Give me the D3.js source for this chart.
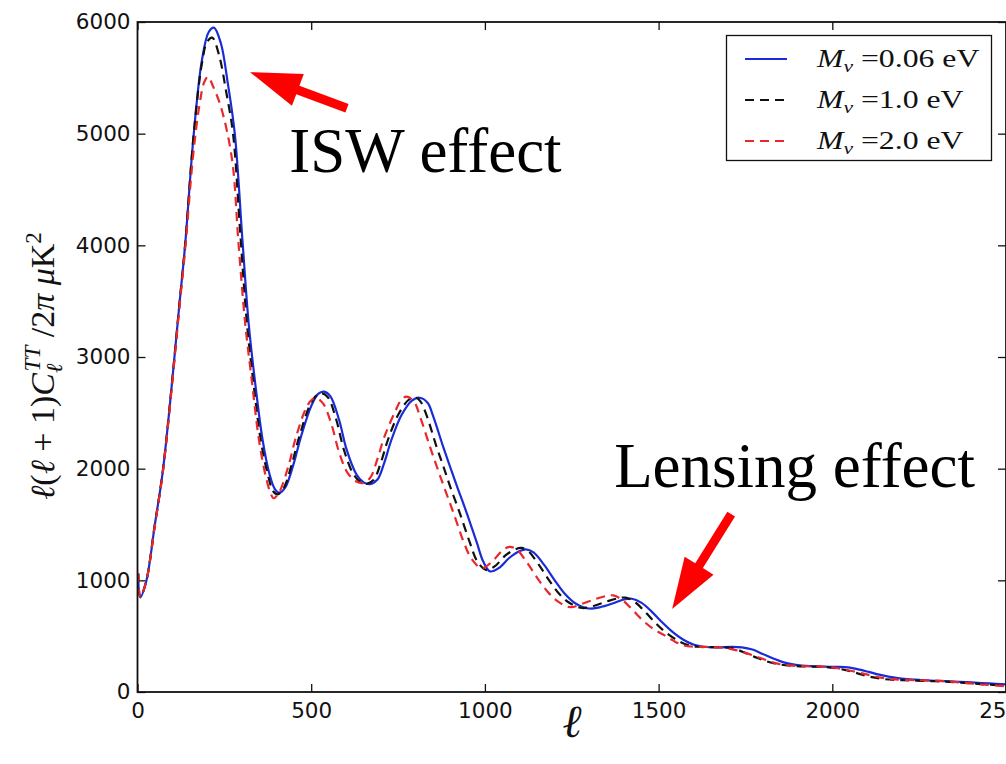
<!DOCTYPE html>
<html>
<head>
<meta charset="utf-8">
<script src="https://cdn.jsdelivr.net/npm/d3@7"></script>
<style>
  body { margin: 0; background: #fff; }
  svg { display: block; }
</style>
</head>
<body>
<svg id="chart" width="1006" height="764"></svg>
<script>
// Tick values of both axes
const xTicks = [0, 500, 1000, 1500, 2000, 2500];
const yTicks = [0, 1000, 2000, 3000, 4000, 5000, 6000];

// Legend entries (neutrino mass sum)
const massLabels = ["0.06 eV", "1.0 eV", "2.0 eV"];

// l(l+1)C_l^TT / 2pi in muK^2, as [multipole l, value]
const spectrum006 = [
  [2, 1060], [8, 850], [25, 990], [50, 1500], [73, 1980], [100, 2790], [120, 3450],
  [137, 4000], [162, 5000], [185, 5650], [205, 5910], [220, 5950], [240, 5810],
  [260, 5450], [280, 5000], [302, 4050], [320, 3300], [339, 2760], [360, 2260],
  [380, 1950], [395, 1820], [408, 1785], [425, 1830], [450, 2050], [470, 2280],
  [500, 2560], [520, 2670], [537, 2690], [555, 2650], [580, 2440], [602, 2170],
  [630, 1950], [650, 1880], [669, 1862], [690, 1900], [710, 2050], [730, 2250],
  [760, 2480], [790, 2610], [812, 2635], [835, 2590], [851, 2470], [880, 2195],
  [900, 2015], [920, 1840], [948, 1600], [977, 1335], [995, 1170], [1015, 1080],
  [1040, 1110], [1070, 1200], [1100, 1262], [1118, 1278], [1140, 1250], [1170, 1140],
  [1200, 1005], [1230, 880], [1260, 795], [1298, 748], [1330, 758], [1370, 795],
  [1400, 828], [1423, 835], [1450, 800], [1480, 720], [1510, 625], [1540, 538],
  [1570, 470], [1600, 425], [1630, 405], [1670, 400], [1710, 404], [1740, 400],
  [1770, 380], [1800, 340], [1830, 300], [1860, 265], [1895, 243], [1935, 231],
  [1975, 227], [2015, 225], [2045, 220], [2075, 203], [2105, 180], [2135, 155],
  [2165, 135], [2200, 121], [2250, 108], [2300, 100], [2350, 94], [2400, 86],
  [2450, 77], [2500, 68]
];

const spectrum10 = [
  [2, 1060], [8, 850], [25, 990], [50, 1500], [73, 1980], [100, 2790], [120, 3450],
  [137, 4000], [162, 5000], [185, 5620], [200, 5820], [215, 5860], [235, 5700],
  [255, 5380], [275, 5000], [296, 4100], [315, 3300], [334, 2760], [355, 2250],
  [375, 1950], [390, 1800], [403, 1770], [420, 1820], [445, 2050], [465, 2280],
  [495, 2560], [513, 2650], [530, 2675], [548, 2640], [572, 2440], [594, 2170],
  [620, 1960], [642, 1880], [660, 1865], [680, 1900], [700, 2050], [720, 2250],
  [750, 2480], [780, 2615], [800, 2640], [815, 2600], [833, 2470], [861, 2195],
  [881, 2015], [900, 1840], [928, 1600], [957, 1335], [978, 1170], [1005, 1092],
  [1030, 1130], [1060, 1225], [1088, 1278], [1105, 1290], [1125, 1262], [1155, 1140],
  [1185, 1000], [1215, 875], [1245, 795], [1280, 752], [1315, 772], [1355, 815],
  [1385, 840], [1405, 845], [1432, 805], [1462, 715], [1492, 615], [1520, 535],
  [1550, 470], [1580, 425], [1612, 405], [1650, 402], [1690, 400], [1720, 385],
  [1750, 350], [1780, 310], [1810, 275], [1842, 250], [1880, 236], [1925, 229],
  [1970, 226], [2005, 215], [2040, 195], [2075, 165], [2110, 135], [2150, 115],
  [2200, 106], [2260, 100], [2320, 94], [2380, 82], [2440, 68], [2500, 58]
];

const spectrum20 = [
  [2, 1060], [8, 850], [25, 990], [50, 1490], [73, 1970], [100, 2770], [120, 3420],
  [137, 3960], [160, 4800], [178, 5250], [192, 5460], [203, 5510], [218, 5420],
  [237, 5270], [257, 5030], [275, 4700], [290, 4050], [310, 3300], [329, 2790],
  [350, 2250], [370, 1920], [383, 1780], [392, 1735], [408, 1790], [435, 2030],
  [455, 2270], [485, 2540], [503, 2620], [517, 2630], [535, 2580], [558, 2400],
  [580, 2150], [605, 1960], [630, 1885], [649, 1871], [670, 1920], [690, 2080],
  [710, 2280], [740, 2500], [760, 2620], [775, 2645], [797, 2595], [813, 2470],
  [842, 2195], [862, 2015], [882, 1840], [910, 1600], [940, 1335], [962, 1190],
  [990, 1110], [1020, 1165], [1048, 1260], [1070, 1300], [1090, 1280], [1120, 1165],
  [1150, 1025], [1180, 900], [1210, 812], [1245, 760], [1280, 790], [1320, 835],
  [1350, 860], [1370, 865], [1395, 825], [1425, 735], [1455, 640], [1485, 565],
  [1513, 515], [1542, 460], [1571, 418], [1605, 405], [1645, 404], [1685, 396],
  [1716, 380], [1750, 350], [1783, 316], [1815, 280], [1845, 252], [1878, 238],
  [1915, 232], [1975, 227], [2010, 215], [2042, 197], [2075, 175], [2109, 150],
  [2140, 128], [2172, 115], [2234, 107], [2311, 100], [2374, 84], [2446, 64], [2500, 52]
];

// Annotation arrows and captions, in data coordinates [l, value]
const iswArrow = { tail: [603, 5228], tip: [324, 5551] };
const lensArrow = { tail: [1709, 1594], tip: [1539, 743] };
const iswText = { pos: [437, 4655], label: "ISW effect" };
const lensText = { pos: [1372, 1835], label: "Lensing effect" };

const svg = d3.select("#chart");
const W = 1006, H = 764;
const plot = { left: 137.5, right: 1006, top: 22, bottom: 692 };

const x = d3.scaleLinear().domain([0, 2500]).range([plot.left, plot.right]);
const y = d3.scaleLinear().domain([0, 6000]).range([plot.bottom, plot.top]);

svg.append("rect").attr("width", W).attr("height", H).attr("fill", "#fff");

svg.append("defs").append("clipPath").attr("id", "plotClip")
  .append("rect")
  .attr("x", plot.left).attr("y", plot.top)
  .attr("width", plot.right - plot.left).attr("height", plot.bottom - plot.top);

const tickFont = "'DejaVu Sans', sans-serif";

// Axes with inward ticks on all four sides
const axB = svg.append("g").attr("transform", `translate(0,${plot.bottom})`)
  .call(d3.axisBottom(x).tickValues(xTicks).tickSizeInner(-8).tickSizeOuter(0).tickPadding(11).tickFormat(d3.format("d")));
const axT = svg.append("g").attr("transform", `translate(0,${plot.top})`)
  .call(d3.axisTop(x).tickValues(xTicks).tickSizeInner(-8).tickSizeOuter(0).tickFormat(""));
const axL = svg.append("g").attr("transform", `translate(${plot.left},0)`)
  .call(d3.axisLeft(y).tickValues(yTicks).tickSizeInner(-8).tickSizeOuter(0).tickPadding(7).tickFormat(d3.format("d")));
const axR = svg.append("g").attr("transform", `translate(${plot.right},0)`)
  .call(d3.axisRight(y).tickValues(yTicks).tickSizeInner(-8).tickSizeOuter(0).tickFormat(""));

[axB, axT, axL, axR].forEach(g => {
  g.select(".domain").remove();
  g.selectAll(".tick line").attr("stroke", "#111").attr("stroke-width", 1.3);
  g.selectAll(".tick text").attr("fill", "#111")
    .style("font-family", tickFont).style("font-size", "21.5px");
});

// Series lines
const line = d3.line()
  .x(d => x(d[0])).y(d => y(d[1]))
  .curve(d3.curveCatmullRom.alpha(0.5));

const series = [
  { data: spectrum006, color: "#1a2bd8", dash: null, label: massLabels[0] },
  { data: spectrum10, color: "#111111", dash: "9,6", label: massLabels[1] },
  { data: spectrum20, color: "#e8282c", dash: "9,6", label: massLabels[2] }
];

const lines = svg.append("g").attr("clip-path", "url(#plotClip)");
series.forEach(s => {
  lines.append("path")
    .datum(s.data)
    .attr("d", line)
    .attr("fill", "none")
    .attr("stroke", s.color)
    .attr("stroke-width", 2.2)
    .attr("stroke-dasharray", s.dash);
});

// Plot frame
svg.append("rect")
  .attr("x", plot.left).attr("y", plot.top)
  .attr("width", plot.right - plot.left).attr("height", plot.bottom - plot.top)
  .attr("fill", "none").attr("stroke", "#111").attr("stroke-width", 1.8);

// Legend
const leg = svg.append("g");
leg.append("rect")
  .attr("x", 726.5).attr("y", 35.5).attr("width", 265).attr("height", 125)
  .attr("fill", "#fff").attr("stroke", "#111").attr("stroke-width", 1.3);
series.forEach((s, i) => {
  const cy = 59 + i * 41;
  leg.append("line")
    .attr("x1", 745).attr("x2", 787).attr("y1", cy).attr("y2", cy)
    .attr("stroke", s.color).attr("stroke-width", 2.2)
    .attr("stroke-dasharray", s.dash);
  const t = leg.append("text")
    .attr("transform", `translate(817,${cy + 8}) scale(1.27,1)`)
    .style("font-family", "'Liberation Serif', serif")
    .style("font-size", "25px").attr("fill", "#111");
  t.append("tspan").style("font-style", "italic").text("M");
  t.append("tspan").attr("dy", 5).style("font-size", "17px").style("font-style", "italic").text("ν");
  t.append("tspan").attr("dy", -5).text(" =" + s.label);
});

// Arrow drawn as one polygon: shaft plus triangular head
function arrow(spec) {
  const [x0, y0] = [x(spec.tail[0]), y(spec.tail[1])];
  const [x1, y1] = [x(spec.tip[0]), y(spec.tip[1])];
  const len = Math.hypot(x1 - x0, y1 - y0);
  const ux = (x1 - x0) / len, uy = (y1 - y0) / len;
  const px = -uy, py = ux;
  const shaftW = 4.5, headW = 17, headL = 51;
  const bx = x1 - ux * headL, by = y1 - uy * headL;
  const pts = [
    [x0 + px * shaftW, y0 + py * shaftW],
    [bx + px * shaftW, by + py * shaftW],
    [bx + px * headW, by + py * headW],
    [x1, y1],
    [bx - px * headW, by - py * headW],
    [bx - px * shaftW, by - py * shaftW],
    [x0 - px * shaftW, y0 - py * shaftW]
  ];
  svg.append("polygon").attr("points", pts.map(p => p.join(",")).join(" "))
    .attr("fill", "#ff0000");
}
arrow(iswArrow);
arrow(lensArrow);

[[iswText, 63], [lensText, 63]].forEach(([t, size]) => {
  svg.append("text")
    .attr("x", x(t.pos[0])).attr("y", y(t.pos[1]))
    .style("font-family", "'Liberation Serif', serif")
    .style("font-size", size + "px").attr("fill", "#000")
    .text(t.label);
});

// Axis titles
svg.append("text")
  .attr("x", (plot.left + plot.right) / 2).attr("y", 737)
  .attr("text-anchor", "middle")
  .style("font-family", "'Liberation Serif', serif").style("font-style", "italic")
  .style("font-size", "46px").attr("fill", "#111")
  .text("ℓ");

const yl = svg.append("text")
  .attr("transform", "translate(54,366) rotate(-90)")
  .attr("text-anchor", "middle")
  .style("font-family", "'Liberation Serif', serif")
  .style("font-size", "34px").attr("fill", "#111");
yl.append("tspan").style("font-style", "italic").text("ℓ");
yl.append("tspan").text("(");
yl.append("tspan").style("font-style", "italic").text("ℓ");
yl.append("tspan").text(" + 1)");
yl.append("tspan").style("font-style", "italic").text("C");
yl.append("tspan").attr("dy", 8).style("font-size", "23px").style("font-style", "italic").text("ℓ");
yl.append("tspan").attr("dx", -8).attr("dy", -22).style("font-size", "23px").style("font-style", "italic").text("TT");
yl.append("tspan").attr("dy", 14).text(" /2");
yl.append("tspan").style("font-style", "italic").text("π μ");
yl.append("tspan").text("K");
yl.append("tspan").attr("dy", -13).style("font-size", "23px").text("2");
</script>
</body>
</html>
